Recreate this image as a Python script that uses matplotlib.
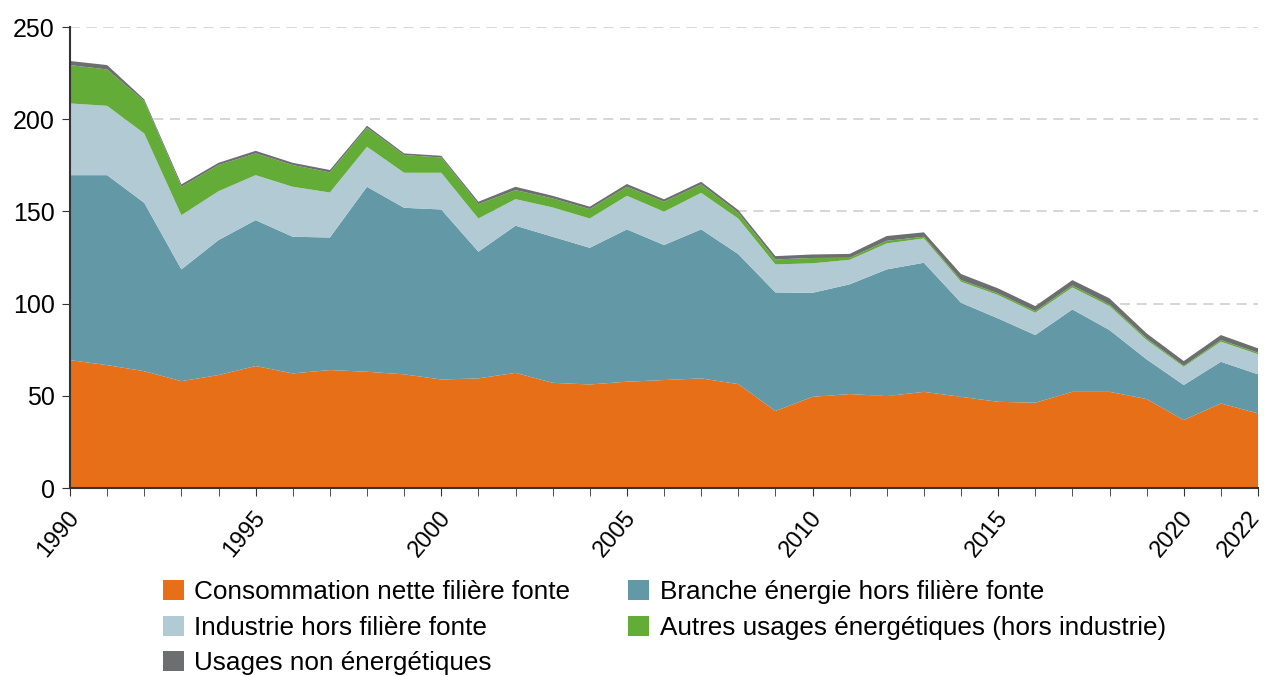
import matplotlib
matplotlib.use("Agg")
import matplotlib.pyplot as plt
import matplotlib.transforms as mtransforms
import numpy as np

# ── Data ─────────────────────────────────────────────────────────────────────
years = list(range(1990, 2023))

# cumulative tops of each layer
top_conso = [69.4, 66.7, 63.4, 58.0, 61.3, 66.2, 62.2, 64.0, 63.1, 61.7, 58.9,
             59.5, 62.5, 57.1, 56.2, 57.7, 58.6, 59.5, 56.4, 41.8, 49.5,
             51.0, 49.9, 52.2, 49.5, 46.8, 46.3, 52.2, 52.2, 48.3, 36.9, 45.9, 40.5]
top_branche = [169.7, 169.7, 154.7, 118.6, 134.5, 145.3, 136.3, 135.9, 163.4, 152.0, 151.1,
               128.2, 142.3, 136.3, 130.3, 140.3, 131.8, 140.3, 126.9, 106.1, 105.9,
               110.5, 118.6, 122.2, 100.5, 92.0, 83.0, 96.9, 85.7, 69.8, 55.9, 68.5, 61.7]
top_industrie = [208.6, 207.3, 192.3, 148.0, 161.0, 169.7, 163.4, 160.3, 185.1, 171.0, 171.0,
                 146.2, 156.7, 152.2, 146.2, 158.5, 149.9, 160.1, 146.2, 121.3, 121.9,
                 123.8, 132.7, 135.4, 111.9, 104.7, 95.1, 108.8, 98.7, 80.3, 65.8, 79.4, 72.6]
top_autres = [229.4, 227.0, 209.9, 163.4, 175.2, 181.5, 175.2, 171.2, 195.4, 180.6, 179.3,
              154.0, 161.6, 157.1, 151.3, 163.4, 155.3, 164.7, 149.3, 124.0, 124.8,
              124.9, 134.1, 136.3, 112.8, 105.6, 96.0, 109.9, 99.6, 81.2, 66.3, 80.3, 73.4]
top_usages = [231.6, 229.4, 210.8, 164.7, 176.4, 182.9, 176.4, 172.5, 196.5, 181.5, 180.2,
              155.3, 163.4, 158.5, 152.6, 164.9, 156.6, 166.1, 150.8, 125.8, 126.7,
              127.0, 136.7, 138.7, 116.1, 108.3, 98.7, 112.8, 102.9, 83.9, 68.9, 83.0, 75.8]

conso = np.array(top_conso)
branche = np.array(top_branche) - np.array(top_conso)
industrie = np.array(top_industrie) - np.array(top_branche)
autres = np.array(top_autres) - np.array(top_industrie)
usages = np.array(top_usages) - np.array(top_autres)

labels = ["Consommation nette filière fonte", "Branche énergie hors filière fonte",
          "Industrie hors filière fonte", "Autres usages énergétiques (hors industrie)",
          "Usages non énergétiques"]
colors = ["#E66F17", "#6398A6", "#B1CAD3", "#62AC37", "#6D6E70"]

xtick_labels = [1990, 1995, 2000, 2005, 2010, 2015, 2020, 2022]

# ── Plot ─────────────────────────────────────────────────────────────────────
plt.rcParams["font.family"] = ["Liberation Sans", "DejaVu Sans"]
fig = plt.figure(figsize=(12.66, 6.77), dpi=100)
ax = fig.add_axes([0.0553, 0.279, 0.9384, 0.681])

polys = ax.stackplot(years, conso, branche, industrie, autres, usages,
                     colors=colors, labels=labels, linewidth=0, zorder=2)

ax.set_xlim(1990, 2022)
ax.set_ylim(0, 250)
ax.set_yticks(range(0, 251, 50))
ax.set_xticks(years, minor=True)
ax.set_xticks(xtick_labels)
ax.set_xticklabels([str(y) for y in xtick_labels], rotation=50, ha="right",
                   rotation_mode="anchor", fontsize=17)
ax.tick_params(axis="y", labelsize=18, length=6, color="#333333", pad=5)
ax.tick_params(axis="x", which="both", length=6, color="#333333", pad=6)

# nudge the rotated year labels a little left/down (last one more, to stay inside)
for lab in ax.get_xticklabels():
    dx = -10 if lab.get_text() == "2022" else -3
    shift = mtransforms.ScaledTranslation(dx / 100, -2 / 100, fig.dpi_scale_trans)
    lab.set_transform(lab.get_transform() + shift)

for y in range(50, 251, 50):
    ax.axhline(y, color="#D0D0D0", linestyle=(0, (6, 4)), linewidth=1.2, zorder=1)

for side in ["top", "right"]:
    ax.spines[side].set_visible(False)
for side in ["left", "bottom"]:
    ax.spines[side].set_color("#333333")
    ax.spines[side].set_linewidth(1.5)
    ax.spines[side].set_zorder(3)

# legend filled row-wise: reorder handles for ncol=2
order = [0, 2, 4, 1, 3]
handles = [polys[i] for i in order]
fig.legend(handles, [labels[i] for i in order], ncol=2, loc="upper left",
           bbox_to_anchor=(0.1205, 0.159), frameon=False, fontsize=18.8,
           handlelength=0.8, handleheight=0.8, handletextpad=0.4,
           columnspacing=2.22, labelspacing=0.45, borderaxespad=0)

fig.savefig("out.png", dpi=100)
